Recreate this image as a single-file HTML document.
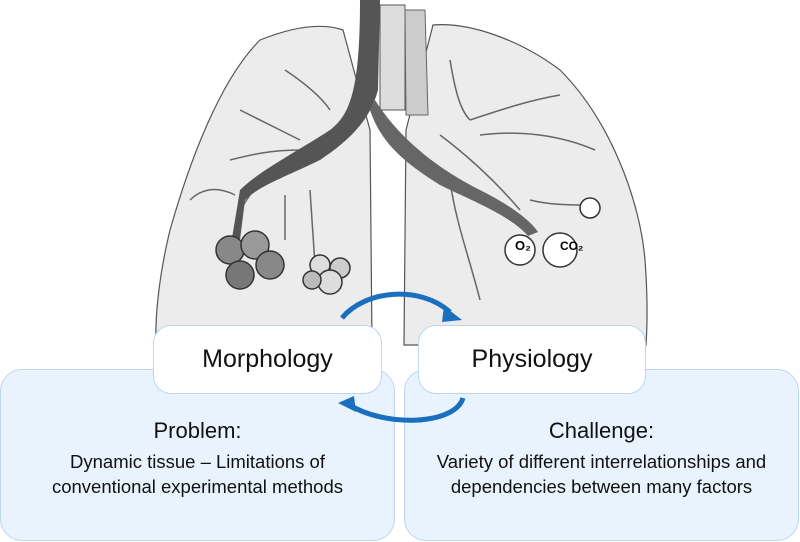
<!DOCTYPE html>
<html><head><meta charset="utf-8"><style>
html,body{margin:0;padding:0;background:#fff;}
body{width:800px;height:542px;position:relative;overflow:hidden;font-family:"Liberation Sans",sans-serif;}
.bb{position:absolute;background:#e9f3fd;border:1px solid #bcd6f0;border-radius:22px;box-sizing:border-box;}
.wb{position:absolute;background:#fff;border:1px solid #bcd6f0;border-radius:18px;box-sizing:border-box;font-size:25px;color:#111;text-align:center;line-height:66px;}
.t{position:absolute;text-align:center;color:#111;}
</style></head><body>
<svg width="800" height="542" style="position:absolute;left:0;top:0">
<g stroke="#555" stroke-width="1.2" fill="#ececec">
<path d="M343,30 C320,22 290,28 260,40 C220,80 190,160 170,230 C158,280 155,320 156,345 L372,345 L370,130 Z"/>
<path d="M433,25 C470,22 520,40 560,70 C610,120 640,200 645,260 C648,300 647,330 646,345 L404,345 L406,130 Z"/>
</g>
<g fill="none" stroke="#666" stroke-width="1.5">
<path d="M238,215 C250,190 270,170 300,150 C320,140 335,135 345,130"/>
<path d="M230,160 C250,155 270,150 300,150"/>
<path d="M240,110 C260,120 280,130 300,140"/>
<path d="M285,70 C300,80 320,95 330,110"/>
<path d="M190,200 C200,190 215,185 235,195"/>
<path d="M285,195 L285,240"/><path d="M310,190 L315,265"/>
<path d="M440,135 C460,150 490,175 520,210"/>
<path d="M450,60 C455,90 460,110 470,120"/>
<path d="M470,120 C500,110 530,100 560,95"/>
<path d="M480,135 C520,130 560,135 595,150"/>
<path d="M530,200 C550,205 570,205 590,205"/>
<path d="M450,180 C455,220 470,260 480,300"/>
</g>
<path d="M360,0 L380,0 L378,90 C370,120 350,140 320,160 C290,175 260,185 245,200 L240,240 L232,238 L240,190 C260,170 300,150 330,130 C350,115 360,90 360,0Z" fill="#555"/>
<path d="M380,5 L405,5 L405,110 L380,110Z" fill="#ddd" stroke="#555"/>
<path d="M405,10 L425,10 L428,115 L406,115Z" fill="#ccc" stroke="#666"/>
<path d="M375,100 C400,140 440,170 480,190 C510,205 530,220 538,232 L528,236 C510,215 470,200 440,185 C400,160 380,140 370,110Z" fill="#666"/>
<g stroke="#333" stroke-width="1.5">
<circle cx="230" cy="250" r="14" fill="#888"/><circle cx="255" cy="245" r="14" fill="#999"/><circle cx="270" cy="265" r="14" fill="#888"/><circle cx="240" cy="275" r="14" fill="#777"/>
<circle cx="320" cy="265" r="10" fill="#ddd"/><circle cx="340" cy="268" r="10" fill="#ccc"/><circle cx="330" cy="282" r="12" fill="#ddd"/><circle cx="312" cy="280" r="9" fill="#bbb"/>
<circle cx="520" cy="250" r="15" fill="#fff"/><circle cx="560" cy="250" r="17" fill="#fff"/>
<circle cx="590" cy="208" r="10" fill="#fff"/>
</g>
<text x="515" y="250" font-size="13" font-family="Liberation Sans" font-weight="bold">O₂</text>
<text x="560" y="250" font-size="12" font-family="Liberation Sans" font-weight="bold">CO₂</text>
<g fill="none" stroke="#1a6fbf" stroke-width="5">
<path d="M342,318 C365,290 420,285 450,312"/>
</g>
<path d="M444,306 L462,320 L442,322Z" fill="#1a6fbf"/>
</svg>
<div class="bb" style="left:0;top:369px;width:395px;height:172px"></div>
<div class="bb" style="left:404px;top:369px;width:395px;height:172px"></div>
<div class="wb" style="left:153px;top:325px;width:229px;height:69px">Morphology</div>
<div class="wb" style="left:418px;top:325px;width:228px;height:69px">Physiology</div>
<svg width="800" height="542" style="position:absolute;left:0;top:0;pointer-events:none">
<path d="M463,398 C455,425 385,428 348,404" fill="none" stroke="#1a6fbf" stroke-width="5"/>
<path d="M354,396 L338,403 L356,412Z" fill="#1a6fbf"/>
</svg>
<div class="t" style="left:0;width:395px;top:418px;font-size:22px">Problem:</div>
<div class="t" style="left:0;width:395px;top:449px;font-size:18.5px;line-height:25px">Dynamic tissue – Limitations of<br>conventional experimental methods</div>
<div class="t" style="left:404px;width:395px;top:418px;font-size:22px">Challenge:</div>
<div class="t" style="left:404px;width:395px;top:449px;font-size:18.5px;line-height:25px">Variety of different interrelationships and<br>dependencies between many factors</div>
</body></html>
